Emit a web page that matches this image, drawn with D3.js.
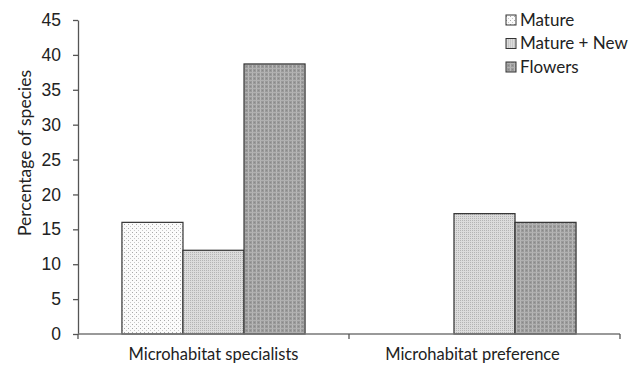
<!DOCTYPE html>
<html>
<head>
<meta charset="utf-8">
<script src="https://cdn.jsdelivr.net/npm/d3@7"></script>
<style>
  html, body { margin: 0; padding: 0; background: #fff; }
  svg { display: block; font-family: Lato, "Open Sans", sans-serif; }
</style>
</head>
<body>
<svg id="chart" width="642" height="370"></svg>
<script>
const categories = ["Microhabitat specialists", "Microhabitat preference"];
const seriesNames = ["Mature", "Mature + New", "Flowers"];
const matureValues = [16.0, null];
const matureNewValues = [12.0, 17.25];
const flowersValues = [38.7, 16.0];
const yTicks = [0, 5, 10, 15, 20, 25, 30, 35, 40, 45];
const yTitle = "Percentage of species";

const seriesValues = [matureValues, matureNewValues, flowersValues];

const svg = d3.select("#chart");
const margin = { left: 78, right: 22, top: 20, bottom: 36 };
const W = 642, H = 370;

// patterns
const defs = svg.append("defs");
const p1 = defs.append("pattern").attr("id", "pat0").attr("width", 4).attr("height", 4).attr("patternUnits", "userSpaceOnUse");
p1.append("rect").attr("width", 4).attr("height", 4).attr("fill", "#fbfbfb");
p1.append("rect").attr("x", 0).attr("y", 0).attr("width", 1).attr("height", 1).attr("fill", "#a8a8a8");
p1.append("rect").attr("x", 2).attr("y", 2).attr("width", 1).attr("height", 1).attr("fill", "#c8c8c8");

const p2 = defs.append("pattern").attr("id", "pat1").attr("width", 2).attr("height", 2).attr("patternUnits", "userSpaceOnUse");
p2.append("rect").attr("width", 2).attr("height", 2).attr("fill", "#dcdcdc");
p2.append("rect").attr("x", 0).attr("y", 0).attr("width", 1).attr("height", 1).attr("fill", "#b4b4b4");

const p3 = defs.append("pattern").attr("id", "pat2").attr("width", 4).attr("height", 4).attr("patternUnits", "userSpaceOnUse");
p3.append("rect").attr("width", 4).attr("height", 4).attr("fill", "#9a9a9a");
p3.append("rect").attr("x", 0).attr("y", 0).attr("width", 1).attr("height", 4).attr("fill", "#b8b8b8");
p3.append("rect").attr("x", 0).attr("y", 0).attr("width", 4).attr("height", 1).attr("fill", "#b0b0b0");
p3.append("rect").attr("x", 2).attr("y", 2).attr("width", 1).attr("height", 1).attr("fill", "#888");

const x0 = d3.scaleBand().domain(categories).range([margin.left, W - margin.right]).paddingInner(0).paddingOuter(0);
const x1 = d3.scaleBand().domain(seriesNames).range([0, x0.bandwidth()]).paddingInner(0).paddingOuter(0.72);
const y = d3.scaleLinear().domain([0, 45]).range([H - margin.bottom, margin.top]);

// bars
categories.forEach((cat, ci) => {
  seriesNames.forEach((s, si) => {
    const v = seriesValues[si][ci];
    if (v == null) return;
    svg.append("rect")
      .attr("x", x0(cat) + x1(s))
      .attr("y", y(v))
      .attr("width", x1.bandwidth())
      .attr("height", y(0) - y(v))
      .attr("fill", `url(#pat${si})`)
      .attr("stroke", "#333")
      .attr("stroke-width", 1.2);
  });
});

// y axis
const yAxis = svg.append("g").attr("transform", `translate(${margin.left},0)`)
  .call(d3.axisLeft(y).tickValues(yTicks).tickSize(5).tickSizeOuter(0));
yAxis.select(".domain").attr("stroke", "#555").attr("stroke-width", 1.3);
yAxis.selectAll(".tick line").attr("stroke", "#555").attr("stroke-width", 1.3);
yAxis.selectAll("text").attr("font-size", 17.5).attr("fill", "#222").attr("dx", -9);

// x axis
const xg = svg.append("g").attr("transform", `translate(0,${y(0)})`);
xg.append("line").attr("x1", margin.left).attr("x2", W - margin.right).attr("y1", 0).attr("y2", 0)
  .attr("stroke", "#777").attr("stroke-width", 1.5);
const boundaries = categories.map(c => x0(c)).concat([x0(categories[categories.length - 1]) + x0.bandwidth()]);
xg.selectAll(".xt").data(boundaries).enter().append("line")
  .attr("x1", d => d).attr("x2", d => d).attr("y1", 0).attr("y2", 5)
  .attr("stroke", "#555").attr("stroke-width", 1.3);
xg.selectAll(".xl").data(categories).enter().append("text")
  .attr("x", d => x0(d) + x0.bandwidth() / 2 - (d === categories[1] ? 12 : 0))
  .attr("y", 26)
  .attr("text-anchor", "middle")
  .attr("font-size", 16.5)
  .attr("fill", "#222")
  .text(d => d);

// y title
svg.append("text")
  .attr("transform", `translate(31,153) rotate(-90)`)
  .attr("text-anchor", "middle")
  .attr("font-size", 17.5)
  .attr("fill", "#222")
  .text(yTitle);

// legend
const lg = svg.append("g").attr("transform", "translate(506,20)");
seriesNames.forEach((s, i) => {
  const row = lg.append("g").attr("transform", `translate(0,${i * 23.5})`);
  row.append("rect").attr("x", 0).attr("y", -5).attr("width", 10).attr("height", 10)
    .attr("fill", `url(#pat${i})`).attr("stroke", "#333").attr("stroke-width", 1);
  row.append("text").attr("x", 14).attr("y", 0).attr("dy", "0.35em")
    .attr("font-size", 17).attr("fill", "#222").text(s);
});
</script>
</body>
</html>
